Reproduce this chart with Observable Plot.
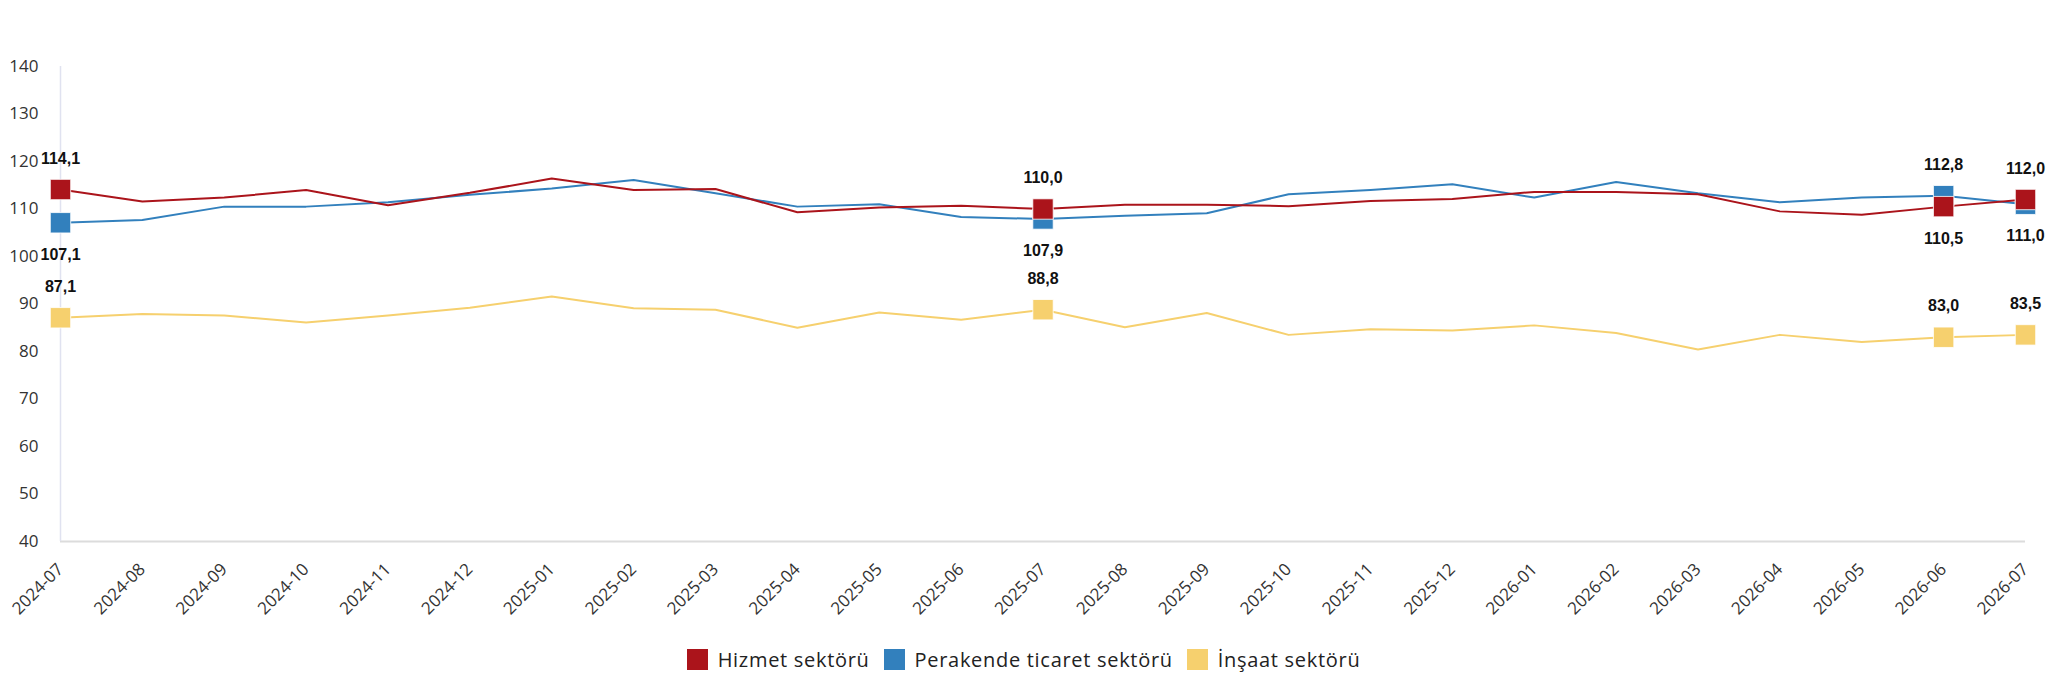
<!DOCTYPE html>
<html>
<head>
<meta charset="utf-8">
<script src="https://cdn.jsdelivr.net/npm/d3@7"></script>
<script src="https://cdn.jsdelivr.net/npm/@observablehq/plot@0.6"></script>
<style>
  html, body { margin: 0; padding: 0; background: #fff; }
  #chart svg { display: block; }
  .legend { display: flex; justify-content: center; align-items: center; font-family: "Open Sans", sans-serif; font-size: 20px; letter-spacing: 0.7px; color: #222; height: 50px; margin-top: 4px; }
  .legend .item { display: flex; align-items: center; margin: 0 7px; }
  .legend .sw { width: 21px; height: 21px; margin-right: 10px; }
</style>
</head>
<body>
<div id="chart"></div>
<div class="legend" id="legend"></div>
<script>
const months = ["2024-07","2024-08","2024-09","2024-10","2024-11","2024-12","2025-01","2025-02","2025-03","2025-04","2025-05","2025-06","2025-07","2025-08","2025-09","2025-10","2025-11","2025-12","2026-01","2026-02","2026-03","2026-04","2026-05","2026-06","2026-07"];
const hizmet = [114.1,111.6,112.4,114.0,110.8,113.4,116.4,114.0,114.2,109.3,110.3,110.7,110.0,110.9,110.9,110.6,111.7,112.1,113.6,113.6,113.1,109.5,108.8,110.5,112.0];
const perakende = [107.1,107.7,110.5,110.5,111.4,113.0,114.3,116.1,113.3,110.5,111.0,108.3,107.9,108.6,109.1,113.1,114.0,115.2,112.4,115.7,113.3,111.4,112.4,112.8,111.0];
const insaat = [87.1,87.9,87.6,86.1,87.6,89.2,91.6,89.1,88.8,85.0,88.2,86.7,88.8,85.1,88.1,83.5,84.7,84.4,85.5,83.9,80.4,83.5,82.0,83.0,83.5];
const seriesNames = ["Hizmet sektörü","Perakende ticaret sektörü","İnşaat sektörü"];
const seriesColors = ["#ab141b","#3280bd","#f6d06e"];
const labeledMonths = ["2024-07","2025-07","2026-06","2026-07"];
const yTicks = [40,50,60,70,80,90,100,110,120,130,140];

const seriesValues = [hizmet, perakende, insaat];
const rows = [];
seriesNames.forEach((s, si) => months.forEach((m, i) => rows.push({series: s, month: m, value: seriesValues[si][i], idx: i})));

// labels: for hizmet/perakende, higher value above, lower below; insaat above
const marks = rows.filter(d => labeledMonths.includes(d.month));
marks.forEach(d => {
  if (d.series === "İnşaat sektörü") d.pos = "above";
  else {
    const other = d.series === "Hizmet sektörü" ? perakende[d.idx] : hizmet[d.idx];
    d.pos = d.value >= other ? "above" : "below";
  }
});
const fmt = v => v.toFixed(1).replace(".", ",");
const colorOf = s => seriesColors[seriesNames.indexOf(s)];
const drawOrder = ["İnşaat sektörü","Perakende ticaret sektörü","Hizmet sektörü"];

const plot = Plot.plot({
  width: 2047,
  height: 630,
  marginLeft: 60,
  marginRight: 22,
  marginTop: 66,
  marginBottom: 89,
  style: {fontFamily: "'Open Sans', sans-serif", background: "#fff"},
  x: {type: "point", domain: months, padding: 0, round: false},
  y: {domain: [40, 140]},
  marks: [
    Plot.ruleY([40], {stroke: "#dcdcdc", strokeWidth: 2}),
    Plot.ruleX([months[0]], {stroke: "#e0e2f0", strokeWidth: 1.5}),
    Plot.axisY({ticks: yTicks, tickSize: 0, tickPadding: 22, fontSize: 17, fill: "#333", label: null}),
    Plot.axisX({tickSize: 0, tickPadding: 25, tickRotate: -45, fontSize: 17, fill: "#333", label: null}),
    ...drawOrder.map(s => Plot.line(rows.filter(d => d.series === s), {x: "month", y: "value", stroke: colorOf(s), strokeWidth: 2})),
    ...drawOrder.map(s => Plot.dot(marks.filter(d => d.series === s), {x: "month", y: "value", symbol: "square", r: 11.5, fill: colorOf(s), stroke: "#fff", strokeWidth: 0.8})),
    Plot.text(marks.filter(d => d.pos === "above"), {x: "month", y: "value", text: d => fmt(d.value), dy: -31, fontSize: 16, fontWeight: "bold", fill: "#111", fontFamily: "'Liberation Sans', Arial, sans-serif"}),
    Plot.text(marks.filter(d => d.pos === "below"), {x: "month", y: "value", text: d => fmt(d.value), dy: 32, fontSize: 16, fontWeight: "bold", fill: "#111", fontFamily: "'Liberation Sans', Arial, sans-serif"})
  ]
});
document.getElementById("chart").appendChild(plot);

const legend = document.getElementById("legend");
seriesNames.forEach((s, i) => {
  const item = document.createElement("div");
  item.className = "item";
  const sw = document.createElement("span");
  sw.className = "sw";
  sw.style.background = seriesColors[i];
  const t = document.createElement("span");
  t.textContent = s;
  item.appendChild(sw); item.appendChild(t);
  legend.appendChild(item);
});
</script>
</body>
</html>
